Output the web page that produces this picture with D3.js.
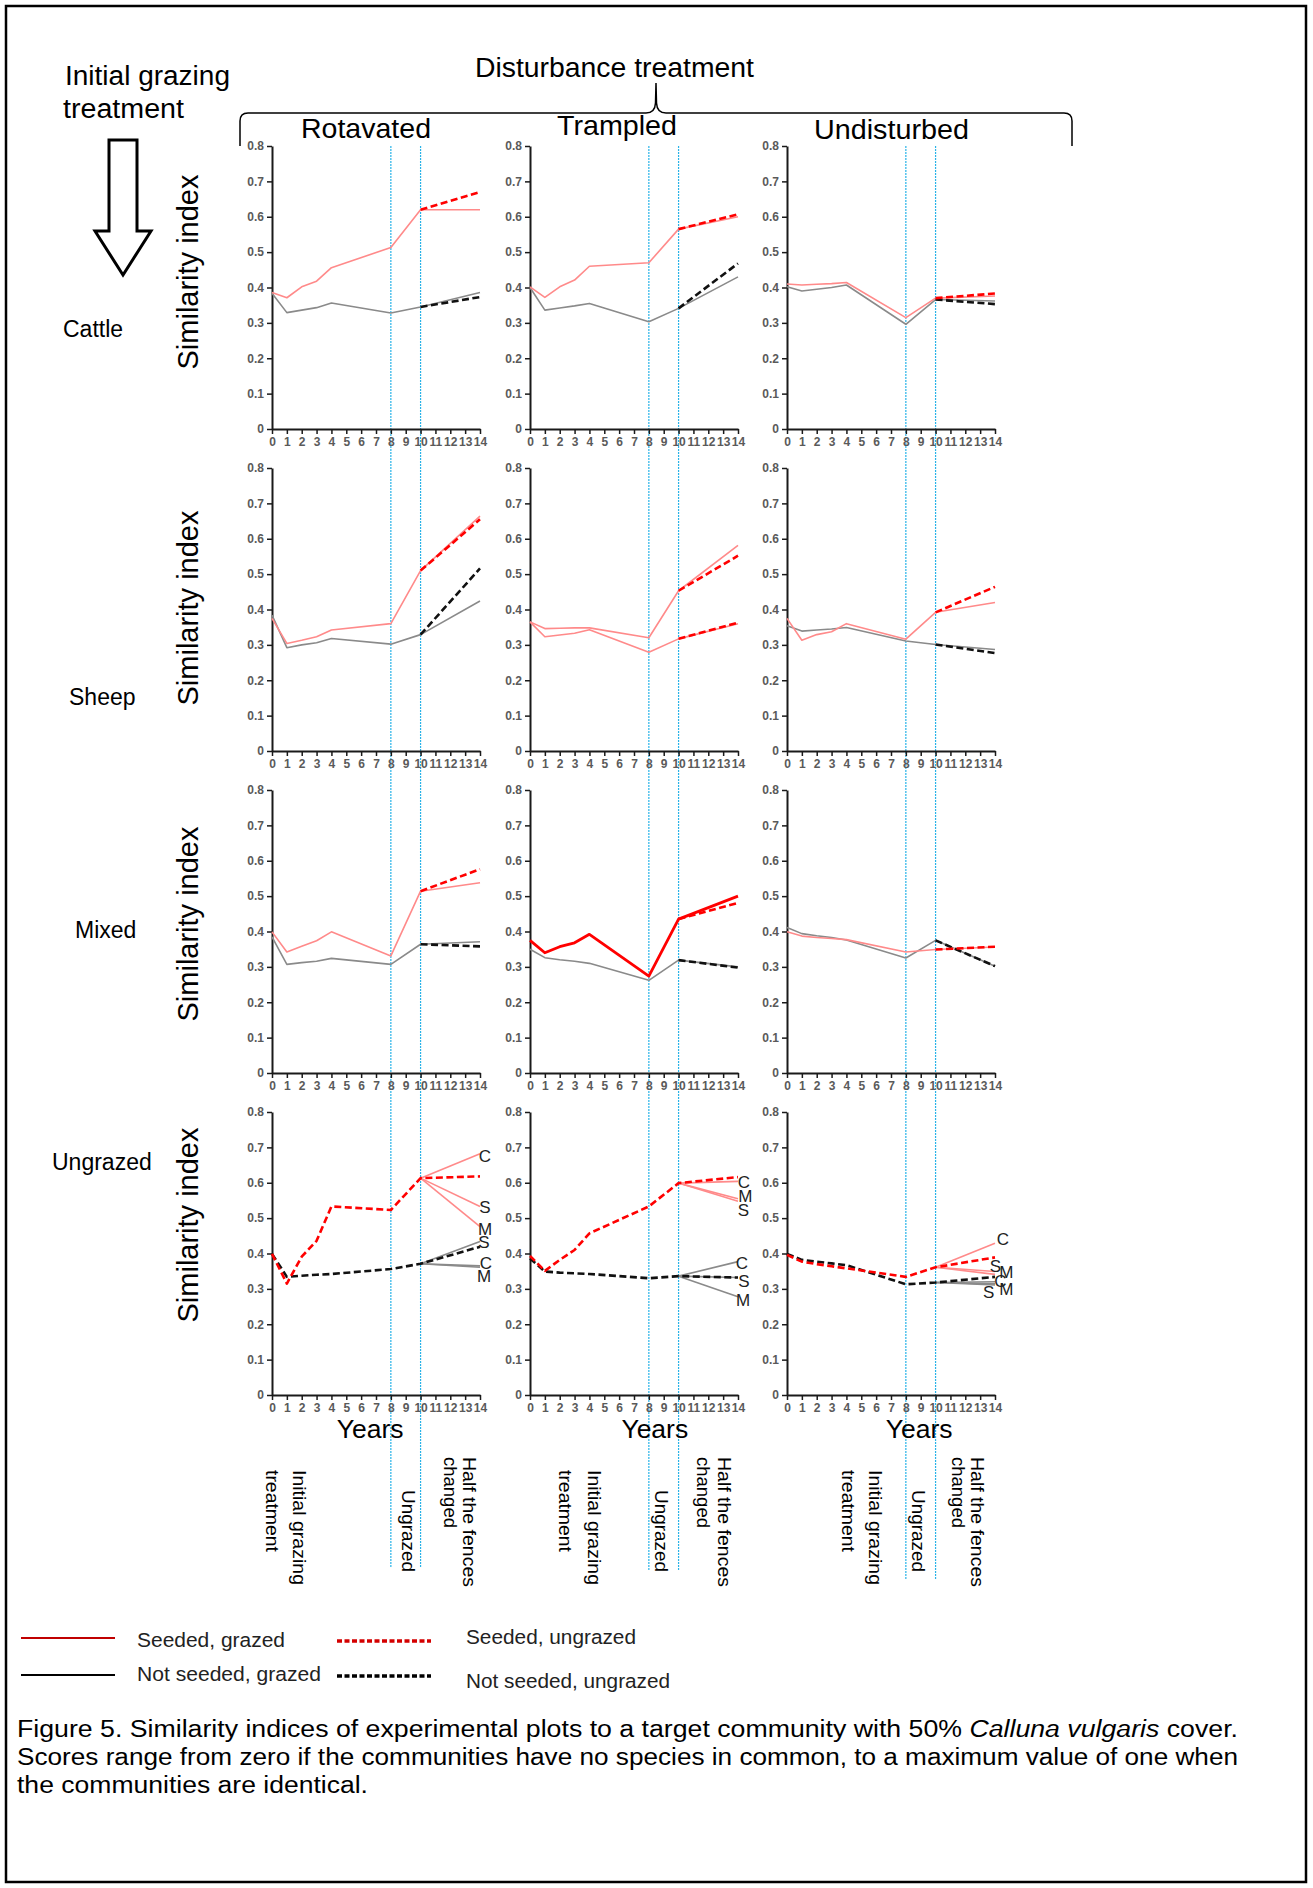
<!DOCTYPE html>
<html>
<head>
<meta charset="utf-8">
<script src="https://cdn.jsdelivr.net/npm/d3@7"></script>
<style>
body { margin: 0; background: #fff; }
svg { display: block; font-family: "Liberation Sans", Arial, sans-serif; }
</style>
</head>
<body>
<svg id="fig" width="1313" height="1888"></svg>
<script>
// values
var disturbances = ["Rotavated", "Trampled", "Undisturbed"];
var grazings = ["Cattle", "Sheep", "Mixed", "Ungrazed"];
var xTicks = [0, 1, 2, 3, 4, 5, 6, 7, 8, 9, 10, 11, 12, 13, 14];
var yTicks = [0, 0.1, 0.2, 0.3, 0.4, 0.5, 0.6, 0.7, 0.8];
var sampleYears = [0, 1, 2, 3, 4, 8, 10];
var endYear = 14;
var markerYears = [8, 10];

// similarity index at sampleYears, [grazing row][disturbance column]
var seededPre = [
  [[0.386, 0.371, 0.402, 0.418, 0.456, 0.513, 0.62], [0.402, 0.372, 0.402, 0.421, 0.46, 0.47, 0.565], [0.41, 0.407, 0.409, 0.411, 0.414, 0.315, 0.37]],
  [[0.375, 0.304, 0.313, 0.323, 0.342, 0.36, 0.51], [0.365, 0.346, 0.347, 0.348, 0.348, 0.32, 0.453], [0.375, 0.313, 0.329, 0.337, 0.36, 0.316, 0.392]],
  [[0.399, 0.342, 0.358, 0.374, 0.399, 0.331, 0.514], [0.375, 0.34, 0.357, 0.368, 0.392, 0.274, 0.435], [0.399, 0.387, 0.383, 0.38, 0.377, 0.342, 0.349]],
  [[0.399, 0.315, 0.391, 0.436, 0.533, 0.523, 0.613], [0.393, 0.351, 0.382, 0.41, 0.457, 0.533, 0.599], [0.396, 0.377, 0.37, 0.364, 0.358, 0.334, 0.361]]
];
var notSeededPre = [
  [[0.384, 0.329, 0.336, 0.343, 0.356, 0.328, 0.345], [0.40, 0.336, 0.342, 0.348, 0.355, 0.303, 0.341], [0.402, 0.39, 0.395, 0.40, 0.407, 0.296, 0.366]],
  [[0.384, 0.292, 0.30, 0.306, 0.318, 0.302, 0.329], [0.365, 0.323, 0.328, 0.333, 0.343, 0.279, 0.317], [0.354, 0.339, 0.342, 0.345, 0.349, 0.311, 0.301]],
  [[0.385, 0.307, 0.312, 0.316, 0.324, 0.307, 0.364], [0.35, 0.326, 0.32, 0.316, 0.31, 0.262, 0.319], [0.411, 0.394, 0.388, 0.383, 0.376, 0.325, 0.375]],
  [[0.399, 0.334, 0.337, 0.34, 0.342, 0.356, 0.371], [0.386, 0.349, 0.346, 0.344, 0.342, 0.33, 0.336], [0.399, 0.382, 0.377, 0.372, 0.367, 0.313, 0.318]]
];
// year-14 values of the continuations after year 10
var seededGrazedEnd = [[0.62, 0.60, 0.376], [0.664, 0.581, 0.42], [0.538, 0.50, 0.356]];
var seededUngrazedEnd = [[0.67, 0.607, 0.383], [0.655, 0.552, 0.464], [0.576, 0.481, 0.357], [0.618, 0.616, 0.389]];
var notSeededGrazedEnd = [[0.386, 0.43, 0.362], [0.424, 0.36, 0.287], [0.371, 0.30, 0.302]];
var notSeededUngrazedEnd = [[0.373, 0.468, 0.353], [0.516, 0.363, 0.277], [0.358, 0.298, 0.302], [0.419, 0.332, 0.334]];
// ungrazed plots: half the fences changed to cattle / sheep / mixed
var regrazeNames = ["C", "S", "M"];
var seededRegrazedEnd = [[0.682, 0.533, 0.476], [0.604, 0.548, 0.555], [0.429, 0.349, 0.341]];
var notSeededRegrazedEnd = [[0.365, 0.434, 0.361], [0.377, 0.332, 0.278], [0.32, 0.311, 0.314]];

// layout
var W = 1313, H = 1888;
var colX = [272, 530, 787], plotW = 208;
var rowY = [146, 468, 790, 1112], plotH = 283;
var blueBottom = [1568, 1571, 1580];
var PINK = "#ff8a8a", GREY = "#8a8a8a", RED = "#ff0000", BLACK = "#111";

var svg = d3.select("#fig");
svg.append("rect").attr("width", W).attr("height", H).attr("fill", "#fff");
svg.append("rect").attr("x", 6).attr("y", 6).attr("width", 1300).attr("height", 1876)
  .attr("fill", "none").attr("stroke", "#000").attr("stroke-width", 2.5);

var line = d3.line().x(function(d){ return d.x; }).y(function(d){ return d.y; });

function pts(x, y, years, vals){
  return years.map(function(yr, i){ return {x: x(yr), y: y(vals[i])}; });
}

function drawLine(g, data, colour, width, dashed){
  g.append("path").attr("d", line(data)).attr("fill", "none")
    .attr("stroke", colour).attr("stroke-width", width)
    .attr("stroke-linejoin", "round")
    .attr("stroke-dasharray", dashed ? "7,3.5" : null);
}

// label nudges (px) for C/S/M, [column][seeded, notSeeded][C,S,M]
var labelNudge = [
  [[[5, 3], [5, 1.5], [5, 3.3]], [[6, -2], [4, 1.4], [4, 9.6]]],
  [[[6, 1.3], [5.3, 9.2], [7.3, -2.5]], [[4, 2.3], [6, 4.3], [5, 4.2]]],
  [[[8, -3.3], [0.3, -5], [11.3, -1.8]], [[5.3, -0.2], [-6.3, 7.6], [11.3, 5.3]]]
];

// blue marker lines run through all rows
colX.forEach(function(x0, c){
  var x = d3.scaleLinear().domain([0, 14]).range([x0, x0 + plotW]);
  markerYears.forEach(function(yr){
    svg.append("line").attr("x1", x(yr)).attr("x2", x(yr))
      .attr("y1", rowY[0]).attr("y2", blueBottom[c])
      .attr("stroke", "#29b3e8").attr("stroke-width", 1.2)
      .attr("stroke-dasharray", "2,1");
  });
});

grazings.forEach(function(gname, r){
  disturbances.forEach(function(dname, c){
    var x = d3.scaleLinear().domain([0, 14]).range([colX[c], colX[c] + plotW]);
    var y = d3.scaleLinear().domain([0, 0.8]).range([rowY[r] + plotH, rowY[r]]);
    var g = svg.append("g");

    var ya = g.append("g").attr("transform", "translate(" + colX[c] + ",0)")
      .call(d3.axisLeft(y).tickValues(yTicks).tickSize(5).tickSizeOuter(0)
        .tickFormat(function(d){ return d === 0 ? "0" : d.toFixed(1); }));
    var xa = g.append("g").attr("transform", "translate(0," + (rowY[r] + plotH) + ")")
      .call(d3.axisBottom(x).tickValues(xTicks).tickSize(5).tickSizeOuter(0));
    [ya, xa].forEach(function(a){
      a.select(".domain").attr("stroke", "#1a1a1a").attr("stroke-width", 2);
      a.selectAll(".tick line").attr("stroke", "#1a1a1a").attr("stroke-width", 1.5);
      a.selectAll(".tick text").attr("fill", "#5a5a5a").attr("font-weight", "bold")
        .attr("font-size", 12).attr("font-family", "Liberation Sans, Arial, sans-serif");
    });
    ya.selectAll(".tick text").attr("x", -8);
    xa.selectAll(".tick text").attr("y", 8);

    var sPre = seededPre[r][c], nPre = notSeededPre[r][c];
    var s10 = sPre[sPre.length - 1], n10 = nPre[nPre.length - 1];

    if (r < 3) {
      // grazed throughout, then half the plots fenced out at year 10
      var notSeededCol = (r === 1 && c === 1) ? PINK : GREY;  // drawn pink in the source
      var seededW = (r === 2 && c === 1) ? 2.8 : 1.6;
      var seededCol = (r === 2 && c === 1) ? RED : PINK;
      drawLine(g, pts(x, y, sampleYears.concat([endYear]), nPre.concat([notSeededGrazedEnd[r][c]])), notSeededCol, 1.6, false);
      drawLine(g, pts(x, y, sampleYears.concat([endYear]), sPre.concat([seededGrazedEnd[r][c]])), seededCol, seededW, false);
      drawLine(g, pts(x, y, [10, endYear], [n10, notSeededUngrazedEnd[r][c]]), (r === 1 && c === 1) ? RED : BLACK, 2.6, true);
      drawLine(g, pts(x, y, [10, endYear], [s10, seededUngrazedEnd[r][c]]), RED, 2.6, true);
    } else {
      // ungrazed plots, half the fences changed at year 10
      regrazeNames.forEach(function(nm, k){
        drawLine(g, pts(x, y, [10, endYear], [n10, notSeededRegrazedEnd[c][k]]), GREY, 1.6, false);
        drawLine(g, pts(x, y, [10, endYear], [s10, seededRegrazedEnd[c][k]]), PINK, 1.6, false);
      });
      drawLine(g, pts(x, y, sampleYears.concat([endYear]), nPre.concat([notSeededUngrazedEnd[r][c]])), BLACK, 2.6, true);
      drawLine(g, pts(x, y, sampleYears.concat([endYear]), sPre.concat([seededUngrazedEnd[r][c]])), RED, 2.6, true);
      [seededRegrazedEnd[c], notSeededRegrazedEnd[c]].forEach(function(ends, s){
        regrazeNames.forEach(function(nm, k){
          var nd = labelNudge[c][s][k];
          g.append("text").attr("x", x(endYear) + nd[0]).attr("y", y(ends[k]) + nd[1])
            .attr("text-anchor", "middle").attr("dominant-baseline", "central")
            .attr("font-size", 17).attr("fill", "#222").text(nm);
        });
      });
    }
  });
});

// header
function label(txt, x, yy, size, len){
  var t = svg.append("text").attr("x", x).attr("y", yy).attr("font-size", size)
    .attr("fill", "#000").text(txt);
  if (len) t.attr("textLength", len).attr("lengthAdjust", "spacingAndGlyphs");
  return t;
}
label("Initial grazing", 65, 85, 27, 165);
label("treatment", 63, 118, 27, 121);
label("Disturbance treatment", 475, 77, 27.5, 279);
label("Rotavated", 301, 138, 27.5, 130);
label("Trampled", 557, 135, 27.5, 120);
label("Undisturbed", 814, 139, 27.5, 155);

svg.append("path")
  .attr("d", "M240,146 L240,121 Q240,113 248,113 L646,113 Q655,113 655.5,103 L656,83 L656.5,103 Q657,113 666,113 L1064,113 Q1072,113 1072,121 L1072,146")
  .attr("fill", "none").attr("stroke", "#000").attr("stroke-width", 1.5);

svg.append("polygon")
  .attr("points", "109,140 137,140 137,231 151,231 123,275 95,231 109,231")
  .attr("fill", "#fff").attr("stroke", "#000").attr("stroke-width", 3);

var rowLabelPos = [[63, 337], [69, 705], [75, 938], [52, 1170]];
grazings.forEach(function(gname, r){
  label(gname, rowLabelPos[r][0], rowLabelPos[r][1], 23);
});

var simCentre = [272, 608, 924, 1225];
simCentre.forEach(function(cy){
  svg.append("text").attr("transform", "translate(198," + cy + ") rotate(-90)")
    .attr("text-anchor", "middle").attr("font-size", 29).attr("fill", "#000")
    .text("Similarity index");
});

var yearsAt = [6.6, 8.4, 8.9];
colX.forEach(function(x0, c){
  var x = d3.scaleLinear().domain([0, 14]).range([x0, x0 + plotW]);
  svg.append("text").attr("x", x(yearsAt[c])).attr("y", 1438).attr("text-anchor", "middle")
    .attr("font-size", 26.5).attr("fill", "#000").text("Years");
});

// rotated notes under each column: baseline x, start y, text, length
var notes = [
  [[293, 1470, "Initial grazing", 115], [266, 1470, "treatment", 82], [402, 1490, "Ungrazed", 82], [463, 1457, "Half the fences", 130], [444, 1457, "changed", 71]],
  [[588, 1470, "Initial grazing", 115], [559, 1470, "treatment", 82], [655, 1490, "Ungrazed", 82], [718, 1457, "Half the fences", 130], [697, 1457, "changed", 71]],
  [[869, 1470, "Initial grazing", 115], [842, 1470, "treatment", 82], [912, 1490, "Ungrazed", 82], [971, 1457, "Half the fences", 130], [952, 1457, "changed", 71]]
];
notes.forEach(function(col){
  col.forEach(function(n){
    svg.append("text").attr("transform", "translate(" + n[0] + "," + n[1] + ") rotate(90)")
      .attr("font-size", 19).attr("fill", "#000")
      .attr("textLength", n[3]).attr("lengthAdjust", "spacingAndGlyphs").text(n[2]);
  });
});

// legend
var legend = [
  {name: "Seeded, grazed", colour: "#c00000", dashed: false, x: 21, y: 1638, tx: 137, ty: 1647, len: 148},
  {name: "Seeded, ungrazed", colour: "#d40000", dashed: true, x: 337, y: 1641, tx: 466, ty: 1644, len: 170},
  {name: "Not seeded, grazed", colour: "#000", dashed: false, x: 21, y: 1675, tx: 137, ty: 1681, len: 184},
  {name: "Not seeded, ungrazed", colour: "#000", dashed: true, x: 337, y: 1676, tx: 466, ty: 1688, len: 204}
];
legend.forEach(function(l){
  svg.append("line").attr("x1", l.x).attr("x2", l.x + 94).attr("y1", l.y).attr("y2", l.y)
    .attr("stroke", l.colour).attr("stroke-width", l.dashed ? 3.5 : 2)
    .attr("stroke-dasharray", l.dashed ? "5,2.5" : null);
  svg.append("text").attr("x", l.tx).attr("y", l.ty).attr("font-size", 20.5).attr("fill", "#222")
    .attr("textLength", l.len).attr("lengthAdjust", "spacingAndGlyphs").text(l.name);
});

// caption
var cap1 = svg.append("text").attr("x", 17).attr("y", 1737).attr("font-size", 23).attr("fill", "#000")
  .attr("textLength", 1221).attr("lengthAdjust", "spacingAndGlyphs");
cap1.append("tspan").text("Figure 5. Similarity indices of experimental plots to a target community with 50% ");
cap1.append("tspan").attr("font-style", "italic").text("Calluna vulgaris");
cap1.append("tspan").text(" cover.");
label("Scores range from zero if the communities have no species in common, to a maximum value of one when", 17, 1765, 23, 1221);
label("the communities are identical.", 17, 1793, 23, 351);
</script>
</body>
</html>
